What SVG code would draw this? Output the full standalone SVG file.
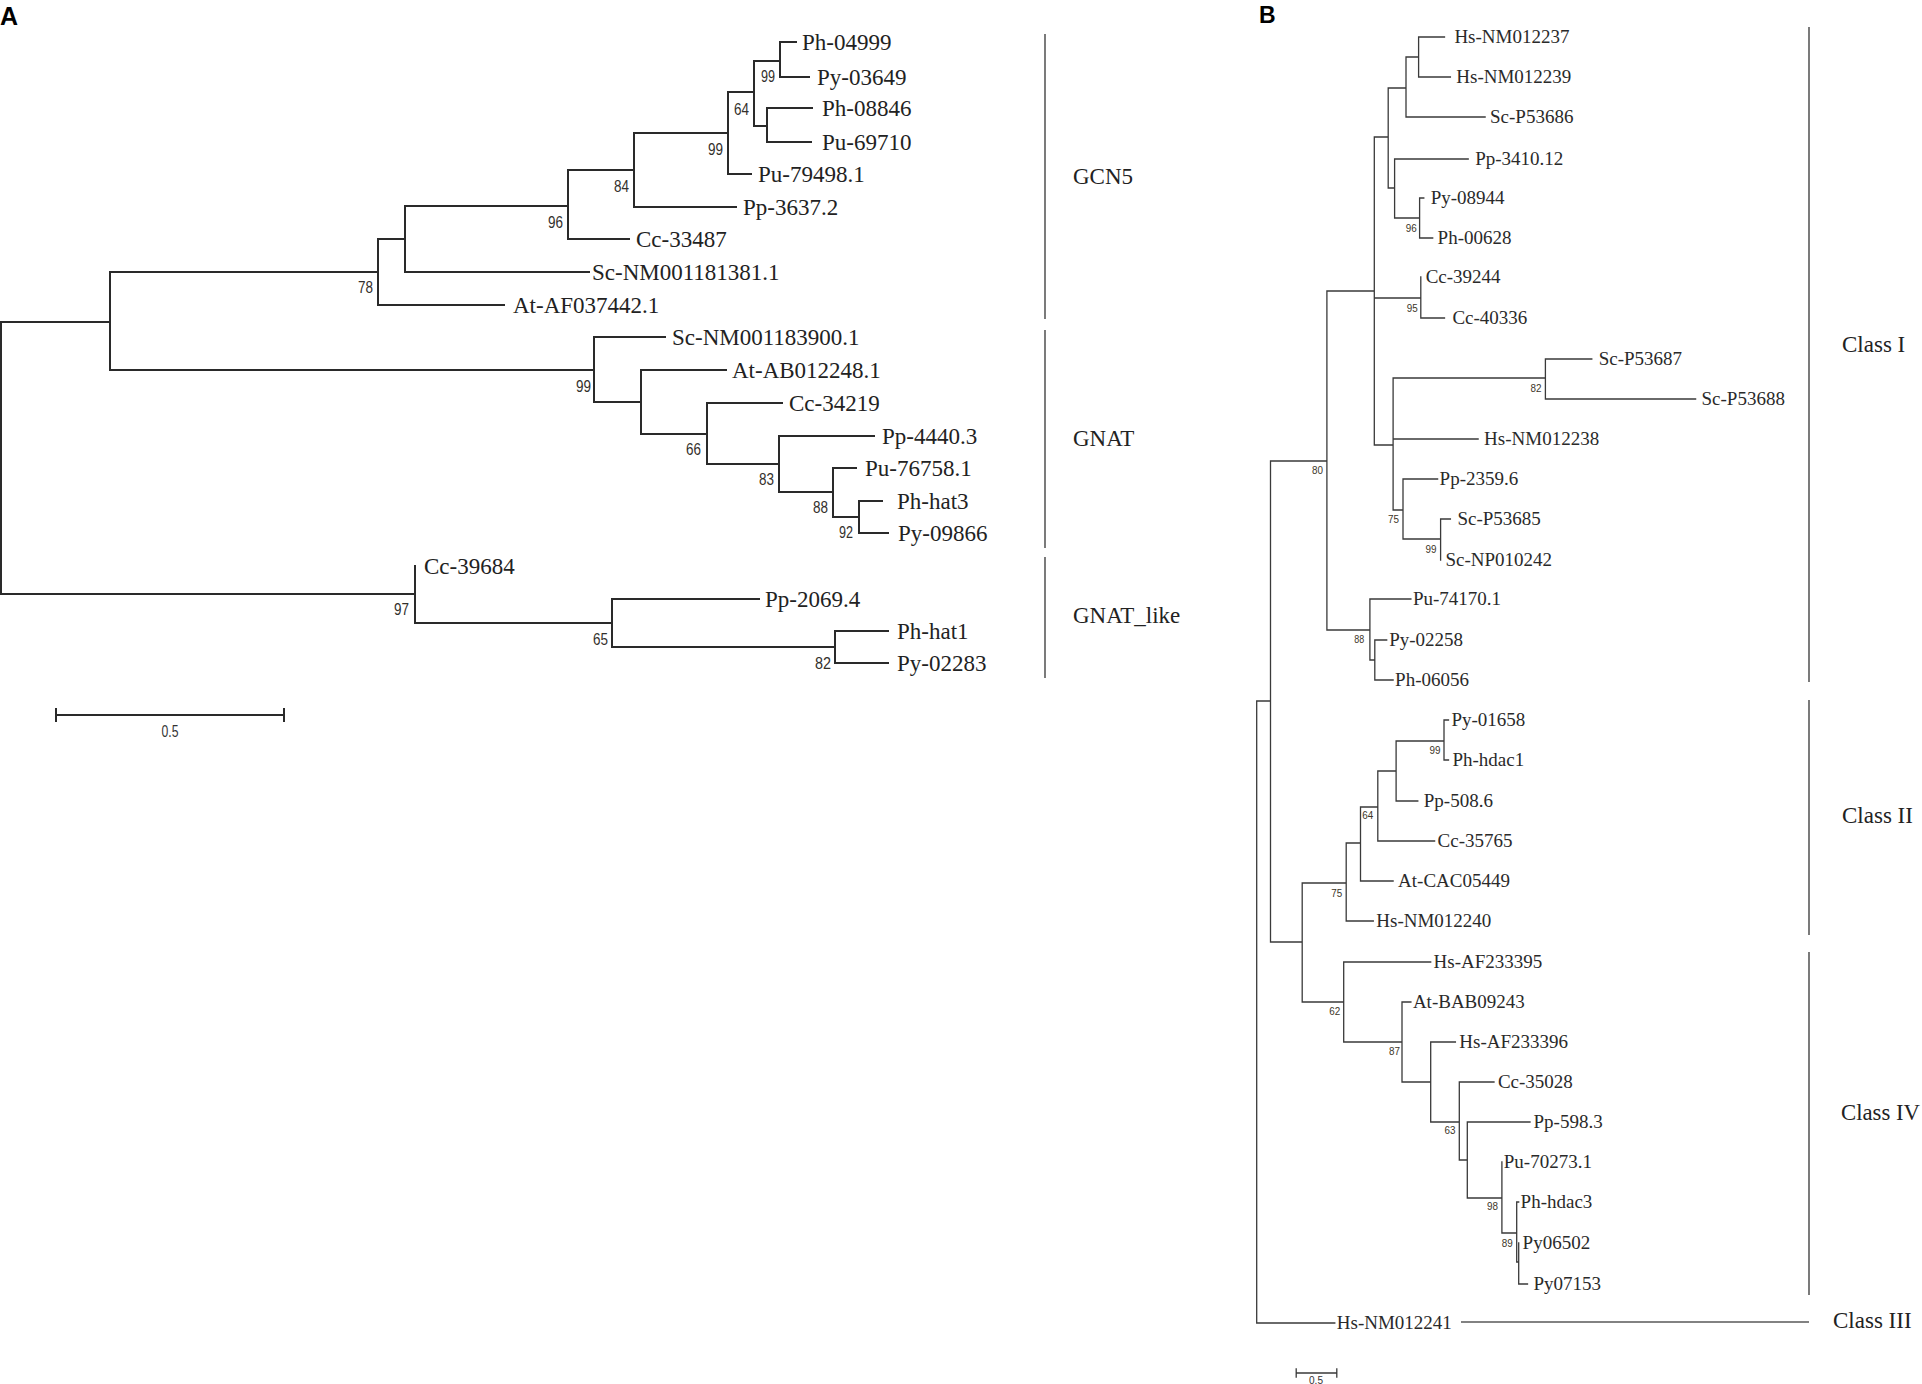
<svg xmlns="http://www.w3.org/2000/svg" width="1922" height="1384" viewBox="0 0 1922 1384">
<style>
.bg{fill:#fff}
.ta{stroke:#2a2a2a;stroke-width:2;fill:none;stroke-linecap:square}
.tb{stroke:#3a3a3a;stroke-width:1.3;fill:none;stroke-linecap:square}
.bar{stroke:#5a5a5a;stroke-width:1.6;fill:none}
.la{font-family:"Liberation Serif","Times New Roman",serif;font-size:23px;fill:#222}
.lb{font-family:"Liberation Serif","Times New Roman",serif;font-size:19px;fill:#2a2a2a}
.cl{font-family:"Liberation Serif","Times New Roman",serif;font-size:23px;fill:#222}
.bsa{font-family:"Liberation Sans",Arial,sans-serif;font-size:17px;fill:#33302c;text-anchor:end}
.bsb{font-family:"Liberation Sans",Arial,sans-serif;font-size:11px;fill:#3d3628;text-anchor:end}
.pl{font-family:"Liberation Sans",Arial,sans-serif;font-weight:bold;fill:#000}
.sc{font-family:"Liberation Sans",Arial,sans-serif;fill:#333;text-anchor:middle}
</style>
<rect class="bg" x="0" y="0" width="1922" height="1384"/>
<text class="pl" x="0" y="25" font-size="25">A</text>
<text class="pl" x="1259" y="23" font-size="23">B</text>

<g id="connectors">
<path class="ta" d="M1,322V594 M1,322H110 M1,594H415
M110,272V370 M110,272H378 M110,370H594
M378,239V305 M378,239H405 M378,305H504
M405,206V272 M405,206H568 M405,272H589
M568,170V239 M568,170H634 M568,239H629
M634,133V207 M634,133H728 M634,207H736
M728,92V174 M728,92H754 M728,174H751
M754,61V126 M754,61H780 M754,126H767
M780,42V77 M780,42H796 M780,77H809
M767,108V142 M767,108H812 M767,142H811
M594,337V402 M594,337H665 M594,402H641
M641,370V434 M641,370H726 M641,434H707
M707,403V464 M707,403H782 M707,464H779
M779,436V492 M779,436H874 M779,492H833
M833,468V517 M833,468H856 M833,517H859
M859,501V533 M859,501H882 M859,533H888
M415,566V623 M415,623H612
M612,599V647 M612,599H759 M612,647H835
M835,631V663 M835,631H888 M835,663H888"/>
<path class="ta" d="M56,715H284 M56,709V721 M284,709V721"/>
<path class="tb" d="M1256.7,701V1323 M1256.7,701H1270.5 M1256.7,1323H1334.8
M1270.5,461V942 M1270.5,461H1326.9 M1270.5,942H1302.2
M1326.9,291V630 M1326.9,291H1374.3 M1326.9,630H1369.9
M1374.3,137V445 M1374.3,137H1388.2 M1374.3,298H1420.8 M1374.3,445H1393.1
M1388.2,88V188 M1388.2,88H1406 M1388.2,188H1394.6
M1406,57V117 M1406,57H1418.6 M1406,117H1485.1
M1418.6,37V77 M1418.6,37H1444.5 M1418.6,77H1450.4
M1394.6,159V218 M1394.6,159H1468.2 M1394.6,218H1419.6
M1419.6,198V238 M1419.6,198H1423.8 M1419.6,238H1432.7
M1420.8,277V318 M1420.8,318H1444.5
M1393.1,378V510 M1393.1,378H1545.4 M1393.1,439H1478.1 M1393.1,510H1403
M1545.4,359V399 M1545.4,359H1591.8 M1545.4,399H1695.6
M1403,479V539 M1403,479H1437.6 M1403,539H1440.6
M1440.6,519V560 M1440.6,519H1450.4
M1369.9,599V660 M1369.9,599H1410.9 M1369.9,660H1374.8
M1374.8,640V680 M1374.8,640H1386.7 M1374.8,680H1393.1
M1302.2,883V1002 M1302.2,883H1346.2 M1302.2,1002H1343.7
M1346.2,843V921 M1346.2,843H1360.5 M1346.2,921H1373.3
M1360.5,807V881 M1360.5,807H1377.8 M1360.5,881H1393.1
M1377.8,771V841 M1377.8,771H1396.1 M1377.8,841H1434.6
M1396.1,741V801 M1396.1,741H1444 M1396.1,801H1417.8
M1444,720V760 M1444,720H1448.5 M1444,760H1448.5
M1343.7,962V1042 M1343.7,962H1430.7 M1343.7,1042H1402
M1402,1002V1082 M1402,1002H1410.9 M1402,1082H1430.7
M1430.7,1042V1122 M1430.7,1042H1455.4 M1430.7,1122H1459.3
M1459.3,1082V1160 M1459.3,1082H1494 M1459.3,1160H1467.3
M1467.3,1122V1198 M1467.3,1122H1530 M1467.3,1198H1501.9
M1501.9,1162V1233 M1501.9,1233H1516.7
M1516.7,1202V1262 M1516.7,1202H1518.7 M1516.7,1262H1518.7
M1518.7,1243V1284 M1518.7,1284H1527.5"/>
<path class="tb" d="M1296.2,1373H1336.8 M1296.2,1369V1377 M1336.8,1369V1377"/>
<path class="bar" d="M1045,34V319 M1045,330V548 M1045,557V678"/>
<path class="bar" stroke-width="2" d="M1809,27V682 M1809,700V935 M1809,952V1295 M1461,1322H1809"/>
</g>

<g id="scale-a"><text class="sc" x="170" y="737" font-size="17" textLength="17" lengthAdjust="spacingAndGlyphs">0.5</text></g>
<g id="scale-b"><text class="sc" x="1316" y="1384" font-size="11" textLength="14" lengthAdjust="spacingAndGlyphs">0.5</text></g>

<g id="clades-a">
<g id="clade-gcn5"><text class="cl" x="1073" y="184">GCN5</text></g>
<g id="clade-gnat"><text class="cl" x="1073" y="446">GNAT</text></g>
<g id="clade-gnatlike"><text class="cl" x="1073" y="623">GNAT_like</text></g>
</g>
<g id="clades-b">
<g id="class-1"><text class="cl" x="1842" y="352">Class I</text></g>
<g id="class-2"><text class="cl" x="1842" y="823">Class II</text></g>
<g id="class-4"><text class="cl" x="1841" y="1120" textLength="79" lengthAdjust="spacingAndGlyphs">Class IV</text></g>
<g id="class-3"><text class="cl" x="1833" y="1328">Class III</text></g>
</g>

<g id="leaves-a">
<g id="a-ph04999"><text class="la" x="802" y="50">Ph-04999</text></g>
<g id="a-py03649"><text class="la" x="817" y="85">Py-03649</text></g>
<g id="a-ph08846"><text class="la" x="822" y="116">Ph-08846</text></g>
<g id="a-pu69710"><text class="la" x="822" y="150">Pu-69710</text></g>
<g id="a-pu79498"><text class="la" x="758" y="182">Pu-79498.1</text></g>
<g id="a-pp3637"><text class="la" x="743" y="215">Pp-3637.2</text></g>
<g id="a-cc33487"><text class="la" x="636" y="247">Cc-33487</text></g>
<g id="a-sc181381"><text class="la" x="592" y="280">Sc-NM001181381.1</text></g>
<g id="a-atAF037442"><text class="la" x="513" y="313">At-AF037442.1</text></g>
<g id="a-sc183900"><text class="la" x="672" y="345">Sc-NM001183900.1</text></g>
<g id="a-atAB012248"><text class="la" x="732" y="378">At-AB012248.1</text></g>
<g id="a-cc34219"><text class="la" x="789" y="411">Cc-34219</text></g>
<g id="a-pp4440"><text class="la" x="882" y="444">Pp-4440.3</text></g>
<g id="a-pu76758"><text class="la" x="865" y="476">Pu-76758.1</text></g>
<g id="a-phhat3"><text class="la" x="897" y="509">Ph-hat3</text></g>
<g id="a-py09866"><text class="la" x="898" y="541">Py-09866</text></g>
<g id="a-cc39684"><text class="la" x="424" y="574">Cc-39684</text></g>
<g id="a-pp2069"><text class="la" x="765" y="607">Pp-2069.4</text></g>
<g id="a-phhat1"><text class="la" x="897" y="639">Ph-hat1</text></g>
<g id="a-py02283"><text class="la" x="897" y="671">Py-02283</text></g>
</g>

<g id="nodes-a">
<g id="a-n78"><text class="bsa" x="373" y="293" textLength="15" lengthAdjust="spacingAndGlyphs">78</text></g>
<g id="a-n96"><text class="bsa" x="563" y="228" textLength="15" lengthAdjust="spacingAndGlyphs">96</text></g>
<g id="a-n84"><text class="bsa" x="629" y="192" textLength="15" lengthAdjust="spacingAndGlyphs">84</text></g>
<g id="a-n99a"><text class="bsa" x="723" y="155" textLength="15" lengthAdjust="spacingAndGlyphs">99</text></g>
<g id="a-n64"><text class="bsa" x="749" y="115" textLength="15" lengthAdjust="spacingAndGlyphs">64</text></g>
<g id="a-n99b"><text class="bsa" x="775" y="82" textLength="14" lengthAdjust="spacingAndGlyphs">99</text></g>
<g id="a-n99c"><text class="bsa" x="591" y="392" textLength="15" lengthAdjust="spacingAndGlyphs">99</text></g>
<g id="a-n66"><text class="bsa" x="701" y="455" textLength="15" lengthAdjust="spacingAndGlyphs">66</text></g>
<g id="a-n83"><text class="bsa" x="774" y="485" textLength="15" lengthAdjust="spacingAndGlyphs">83</text></g>
<g id="a-n88"><text class="bsa" x="828" y="513" textLength="15" lengthAdjust="spacingAndGlyphs">88</text></g>
<g id="a-n92"><text class="bsa" x="853" y="538" textLength="14" lengthAdjust="spacingAndGlyphs">92</text></g>
<g id="a-n97"><text class="bsa" x="409" y="615" textLength="15" lengthAdjust="spacingAndGlyphs">97</text></g>
<g id="a-n65"><text class="bsa" x="608" y="645" textLength="15" lengthAdjust="spacingAndGlyphs">65</text></g>
<g id="a-n82"><text class="bsa" x="831" y="669" textLength="16" lengthAdjust="spacingAndGlyphs">82</text></g>
</g>

<g id="leaves-b" transform="translate(0,-1.5)">
<g id="b-hs012237"><text class="lb" x="1454.4" y="44">Hs-NM012237</text></g>
<g id="b-hs012239"><text class="lb" x="1456.3" y="84">Hs-NM012239</text></g>
<g id="b-scp53686"><text class="lb" x="1490" y="124">Sc-P53686</text></g>
<g id="b-pp3410"><text class="lb" x="1475.2" y="166">Pp-3410.12</text></g>
<g id="b-py08944"><text class="lb" x="1430.7" y="205">Py-08944</text></g>
<g id="b-ph00628"><text class="lb" x="1437.6" y="245">Ph-00628</text></g>
<g id="b-cc39244"><text class="lb" x="1425.7" y="284">Cc-39244</text></g>
<g id="b-cc40336"><text class="lb" x="1452.4" y="325">Cc-40336</text></g>
<g id="b-scp53687"><text class="lb" x="1598.7" y="366">Sc-P53687</text></g>
<g id="b-scp53688"><text class="lb" x="1701.5" y="406">Sc-P53688</text></g>
<g id="b-hs012238"><text class="lb" x="1484.1" y="446">Hs-NM012238</text></g>
<g id="b-pp2359"><text class="lb" x="1439.6" y="486">Pp-2359.6</text></g>
<g id="b-scp53685"><text class="lb" x="1457.4" y="526">Sc-P53685</text></g>
<g id="b-scnp010242"><text class="lb" x="1445.5" y="567">Sc-NP010242</text></g>
<g id="b-pu74170"><text class="lb" x="1412.9" y="606">Pu-74170.1</text></g>
<g id="b-py02258"><text class="lb" x="1389.2" y="647">Py-02258</text></g>
<g id="b-ph06056"><text class="lb" x="1395.1" y="687">Ph-06056</text></g>
<g id="b-py01658"><text class="lb" x="1451.4" y="727">Py-01658</text></g>
<g id="b-phhdac1"><text class="lb" x="1452.4" y="767">Ph-hdac1</text></g>
<g id="b-pp508"><text class="lb" x="1423.8" y="808">Pp-508.6</text></g>
<g id="b-cc35765"><text class="lb" x="1437.6" y="848">Cc-35765</text></g>
<g id="b-atcac05449"><text class="lb" x="1398.1" y="888">At-CAC05449</text></g>
<g id="b-hs012240"><text class="lb" x="1376.3" y="928">Hs-NM012240</text></g>
<g id="b-hsaf233395"><text class="lb" x="1433.6" y="969">Hs-AF233395</text></g>
<g id="b-atbab09243"><text class="lb" x="1412.9" y="1009">At-BAB09243</text></g>
<g id="b-hsaf233396"><text class="lb" x="1459.3" y="1049">Hs-AF233396</text></g>
<g id="b-cc35028"><text class="lb" x="1497.9" y="1089">Cc-35028</text></g>
<g id="b-pp598"><text class="lb" x="1533.5" y="1129">Pp-598.3</text></g>
<g id="b-pu70273"><text class="lb" x="1503.8" y="1169">Pu-70273.1</text></g>
<g id="b-phhdac3"><text class="lb" x="1520.6" y="1209">Ph-hdac3</text></g>
<g id="b-py06502"><text class="lb" x="1522.6" y="1250">Py06502</text></g>
<g id="b-py07153"><text class="lb" x="1533.5" y="1291">Py07153</text></g>
<g id="b-hs012241"><text class="lb" x="1336.8" y="1330">Hs-NM012241</text></g>
</g>

<g id="nodes-b">
<g id="b-n96"><text class="bsb" x="1416.8" y="232" textLength="11" lengthAdjust="spacingAndGlyphs">96</text></g>
<g id="b-n95"><text class="bsb" x="1417.8" y="312" textLength="11" lengthAdjust="spacingAndGlyphs">95</text></g>
<g id="b-n80"><text class="bsb" x="1323.1" y="474" textLength="11" lengthAdjust="spacingAndGlyphs">80</text></g>
<g id="b-n82"><text class="bsb" x="1541.4" y="392" textLength="11" lengthAdjust="spacingAndGlyphs">82</text></g>
<g id="b-n75a"><text class="bsb" x="1399" y="523" textLength="11" lengthAdjust="spacingAndGlyphs">75</text></g>
<g id="b-n99a"><text class="bsb" x="1436.6" y="553" textLength="11" lengthAdjust="spacingAndGlyphs">99</text></g>
<g id="b-n88"><text class="bsb" x="1364.2" y="643" textLength="10" lengthAdjust="spacingAndGlyphs">88</text></g>
<g id="b-n99b"><text class="bsb" x="1440.6" y="754" textLength="11" lengthAdjust="spacingAndGlyphs">99</text></g>
<g id="b-n64"><text class="bsb" x="1373.3" y="819" textLength="11" lengthAdjust="spacingAndGlyphs">64</text></g>
<g id="b-n75b"><text class="bsb" x="1342.2" y="897" textLength="11" lengthAdjust="spacingAndGlyphs">75</text></g>
<g id="b-n62"><text class="bsb" x="1340.2" y="1015" textLength="11" lengthAdjust="spacingAndGlyphs">62</text></g>
<g id="b-n87"><text class="bsb" x="1400" y="1055" textLength="11" lengthAdjust="spacingAndGlyphs">87</text></g>
<g id="b-n63"><text class="bsb" x="1455.4" y="1134" textLength="11" lengthAdjust="spacingAndGlyphs">63</text></g>
<g id="b-n98"><text class="bsb" x="1497.9" y="1210" textLength="11" lengthAdjust="spacingAndGlyphs">98</text></g>
<g id="b-n89"><text class="bsb" x="1512.7" y="1247" textLength="11" lengthAdjust="spacingAndGlyphs">89</text></g>
</g>
</svg>
